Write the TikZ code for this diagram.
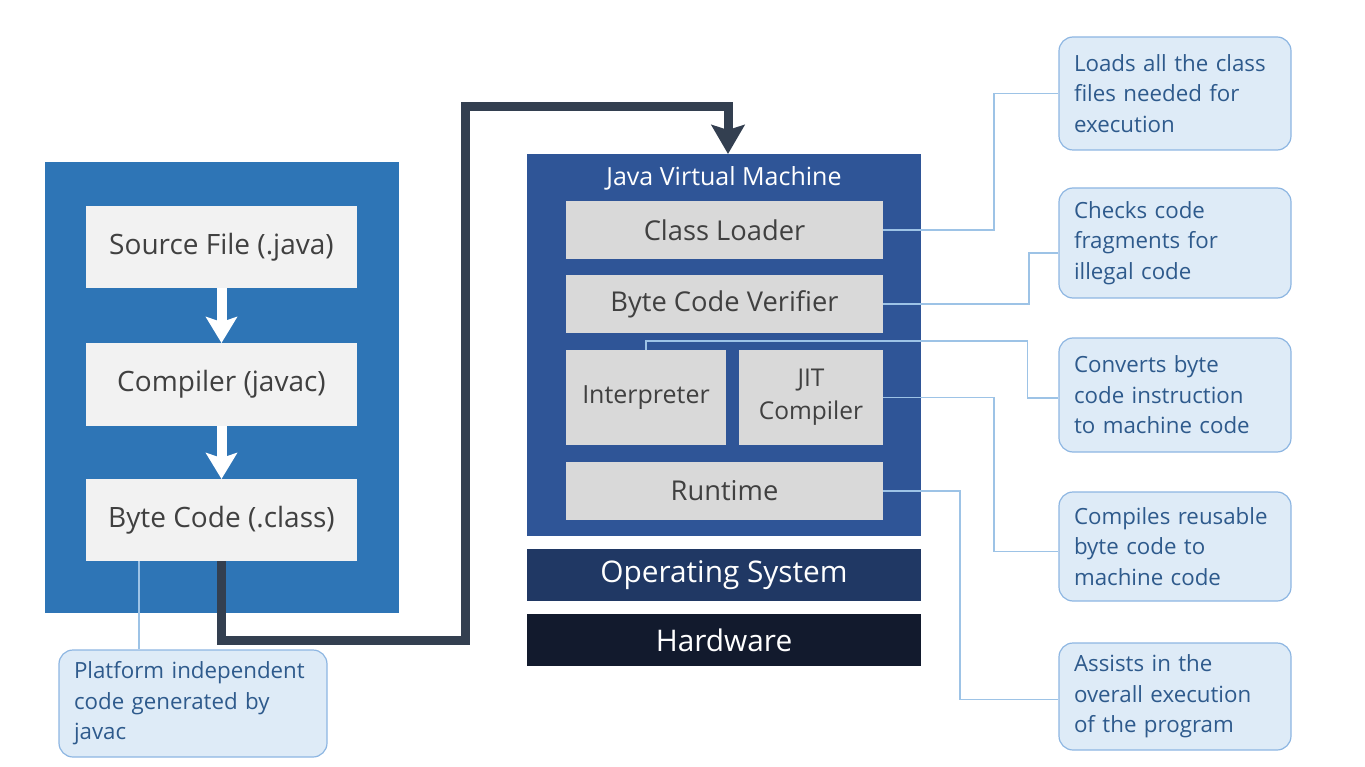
\documentclass[tikz,border=0pt]{standalone}
\usepackage{fontspec}
\setmainfont{Open Sans}
\usetikzlibrary{arrows.meta,calc}
\definecolor{leftpanel}{HTML}{2E75B6}
\definecolor{lightbox}{HTML}{F2F2F2}
\definecolor{boxtext}{HTML}{404040}
\definecolor{jvmblue}{HTML}{2F5597}
\definecolor{graybox}{HTML}{D9D9D9}
\definecolor{osblue}{HTML}{203864}
\definecolor{hwblue}{HTML}{121A2D}
\definecolor{callfill}{HTML}{DEEBF7}
\definecolor{callborder}{HTML}{8DB6E2}
\definecolor{calltext}{HTML}{2E5A8C}
\definecolor{darkline}{HTML}{333F50}
\definecolor{thinline}{HTML}{9DC3E6}
\tikzset{
  panel/.style={rectangle, inner sep=0pt, outer sep=0pt},
  lbox/.style={panel, fill=lightbox, text=boxtext, font=\fontsize{28}{32}\selectfont},
  gbox/.style={panel, fill=graybox, text=boxtext, font=\fontsize{27.3}{32}\selectfont},
  callout/.style={rectangle, rounded corners=14pt, fill=callfill, draw=callborder, line width=1.2pt,
    text=calltext, align=left, font=\fontsize{22.3}{30.5}\selectfont, inner xsep=15pt, inner ysep=0pt, anchor=center},
  thin/.style={draw=thinline, line width=1.5pt},
  whitearrow/.style={draw=white, line width=10pt, -{Stealth[width=31pt,length=26pt,inset=5pt]}},
  darkarrow/.style={draw=darkline, line width=9pt, line join=miter, -{Stealth[width=33pt,length=29pt,inset=5pt]}},
}
\begin{document}
\begin{tikzpicture}[x=1pt,y=-1pt]
\useasboundingbox (0,0) rectangle (1365,767);
% left panel
\node[panel, fill=leftpanel, minimum width=354pt, minimum height=451pt] (lp) at (222,387.5) {};
\node[lbox, minimum width=271pt, minimum height=82pt] (src) at (221.5,247) {Source File (.java)};
\node[lbox, minimum width=271pt, minimum height=83pt] (comp) at (221.5,384.5) {Compiler (javac)};
\node[lbox, minimum width=271pt, minimum height=82pt] (bc) at (221.5,520) {Byte Code (.class)};
\draw[whitearrow] (src.south) -- (comp.north);
\draw[whitearrow] (comp.south) -- (bc.north);
% JVM
\node[panel, fill=jvmblue, minimum width=394pt, minimum height=382pt] (jvm) at (724,345) {};
\node[text=white, font=\fontsize{25}{30}\selectfont, inner sep=0pt] (jvmt) at (724,178) {Java Virtual Machine};
\node[gbox, minimum width=317pt, minimum height=58pt] (cl) at (724.5,230) {Class Loader};
\node[gbox, minimum width=317pt, minimum height=58pt] (bcv) at (724.5,304) {Byte Code Verifier};
\node[gbox, minimum width=160pt, minimum height=95pt, font=\fontsize{25}{30}\selectfont] (interp) at (646,397.5) {Interpreter};
\node[gbox, minimum width=144pt, minimum height=95pt, align=center, font=\fontsize{24.5}{33}\selectfont] (jit) at (811,397.5) {JIT\\Compiler};
\node[gbox, minimum width=317pt, minimum height=58pt] (rt) at (724.5,491) {Runtime};
\node[panel, fill=osblue, text=white, minimum width=394pt, minimum height=52pt, font=\fontsize{29.8}{34}\selectfont] (os) at (724,575) {Operating System};
\node[panel, fill=hwblue, text=white, minimum width=394pt, minimum height=52pt, font=\fontsize{29.8}{34}\selectfont] (hw) at (724,640) {Hardware};
% dark connector
\coordinate (k1) at (465,640);
\coordinate (k2) at (728,107);
\draw[darkarrow] (bc.south) |- (k1) |- (k2) -- (k2 |- jvm.north);
% callouts
\node[callout, minimum width=232pt, minimum height=113pt, text width=202pt] (c1) at (1175,93.5) {Loads all the class\\files needed for\\execution};
\node[callout, minimum width=232pt, minimum height=110pt, text width=202pt] (c2) at (1175,243) {Checks code\\fragments for\\illegal code};
\node[callout, minimum width=232pt, minimum height=114pt, text width=202pt] (c3) at (1175,395) {Converts byte\\code instruction\\to machine code};
\node[callout, minimum width=232pt, minimum height=109pt, text width=202pt] (c4) at (1175,546.5) {Compiles reusable\\byte code to\\machine code};
\node[callout, minimum width=232pt, minimum height=107pt, text width=202pt] (c5) at (1175,696.5) {Assists in the\\overall execution\\of the program};
\node[callout, minimum width=268pt, minimum height=107pt, text width=238pt] (lc) at (193,703.5) {Platform independent\\code generated by\\javac};
% thin connectors
\draw[thin] (cl.east) -- ++(111,0) |- (c1.west);
\draw[thin] (bcv.east) -- ++(146,0) |- ($(c2.west)+(0,10)$);
\draw[thin] (interp.north) -- ++(0,-9) -| ($(c3.west)+(-31,3)$) -- ($(c3.west)+(0,3)$);
\draw[thin] (jit.east) -- ++(111,0) |- ($(c4.west)+(0,5)$);
\draw[thin] (rt.east) -- ++(77,0) |- ($(c5.west)+(0,3)$);
\draw[thin] (bc.south west) ++(53,0) coordinate (q) -- (q |- lc.north);
\end{tikzpicture}
\end{document}
